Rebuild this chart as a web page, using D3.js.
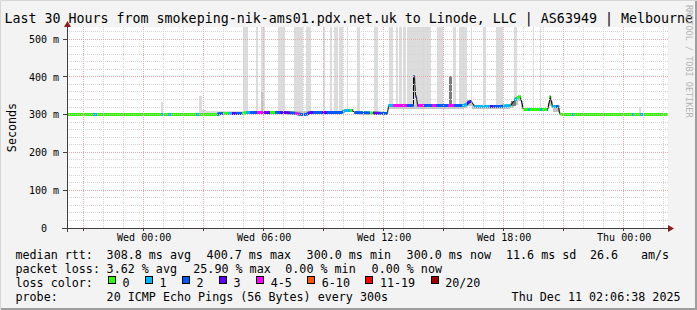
<!DOCTYPE html>
<html>
<head>
<meta charset="utf-8">
<script src="https://cdn.jsdelivr.net/npm/d3@7"></script>
<style>
    body { margin: 0; background: #f3f3f3; }
    svg { display: block; font-family: "DejaVu Sans Mono", monospace; }
</style>
</head>
<body>
<svg width="697" height="310"></svg>
<script>
// ---- chart values ----
// times are hours relative to Wed 00:00, latency in ms

const title = "Last 30 Hours from smokeping-nik-ams01.pdx.net.uk to Linode, LLC | AS63949 | Melbourne";

const lossLabels = ["0", "1", "2", "3", "4-5", "6-10", "11-19", "20/20"];
const lossColors = ["#26ff00", "#00b8ff", "#0059ff", "#5e00ff", "#ff00fe", "#ff5500", "#ff0000", "#a10000"];

// median rtt [hour, ms]
const medianRtt = [
    [-3.84, 300], [3.62, 300], [3.82, 302], [4.42, 303], [4.92, 304], [5.12, 307],
    [5.62, 307], [5.72, 305], [6.32, 306], [7.07, 306], [7.62, 304], [7.82, 301],
    [8.12, 301], [8.27, 305], [9.07, 306], [9.92, 306], [10.02, 311], [10.42, 312],
    [10.52, 305], [12.19, 304], [12.24, 323], [13.47, 323], [13.48, 400.7], [13.54, 400.7],
    [13.57, 349], [13.63, 349], [13.67, 323], [16.02, 323], [16.17, 330], [16.27, 336],
    [16.37, 334], [16.52, 321], [17.82, 321], [18.32, 323], [18.55, 338], [18.77, 349],
    [18.83, 346], [18.98, 314], [20.2, 314], [20.32, 348], [20.36, 346], [20.43, 322],
    [20.73, 322], [20.8, 304], [20.88, 300], [26.17, 300]
];

// loss class runs [fromHour, toHour, class]; everything else is class 0
const lossRuns = [
    [-2.54, -2.34, 1], [0.87, 1.02, 1], [1.22, 1.37, 1], [2.62, 2.77, 1],
    [3.67, 3.97, 2], [4.22, 4.42, 1], [4.42, 4.62, 3], [4.62, 4.92, 2],
    [5.12, 5.32, 1], [5.32, 5.67, 2], [5.67, 5.97, 4], [5.97, 6.32, 3],
    [6.57, 6.82, 2], [6.82, 7.32, 3], [7.32, 7.57, 2], [7.57, 7.77, 4],
    [7.77, 8.22, 2], [8.22, 8.47, 3], [8.47, 8.92, 2], [8.92, 9.17, 3],
    [9.17, 9.97, 2], [9.97, 10.32, 1], [10.42, 10.57, 3], [10.57, 11.32, 2],
    [11.47, 11.82, 3], [11.82, 12.22, 2], [12.22, 12.47, 1], [12.47, 13.17, 4],
    [13.17, 13.47, 2], [13.47, 13.72, 3], [13.72, 14.02, 4], [14.02, 14.42, 2],
    [14.42, 14.62, 4], [14.62, 15.22, 2], [15.22, 15.52, 4], [15.52, 15.92, 2],
    [15.92, 16.17, 1], [16.17, 16.37, 3], [16.37, 17.32, 1], [17.32, 17.47, 3],
    [17.47, 17.97, 2], [17.97, 18.67, 1], [19.22, 19.32, 1], [19.82, 19.92, 1],
    [20.15, 20.27, 2], [20.43, 20.6, 1], [20.6, 20.75, 2], [21.42, 21.52, 1],
    [24.42, 24.52, 1], [24.82, 24.97, 1]
];

// smoke [fromHour, toHour, lowMs, highMs]; 1000 = off the top of the graph
const smokeFaint = [
    [0.87, 0.99, 300, 334], [2.2, 2.7, 300, 304], [2.77, 2.92, 300, 350], [2.92, 3.12, 300, 311],
    [3.12, 4.97, 301, 309], [24.77, 24.87, 300, 321],
    [4.99, 5.24, 304, 1000], [5.62, 5.72, 307, 1000], [5.87, 6.09, 306, 1000], [6.73, 7.09, 306, 1000],
    [7.53, 7.98, 303, 1000], [8.12, 8.35, 302, 1000], [8.99, 9.08, 306, 1000], [9.32, 9.44, 306, 1000],
    [9.53, 9.73, 306, 1000], [9.78, 9.98, 306, 1000], [10.17, 10.22, 312, 1000], [10.65, 10.82, 305, 1000],
    [11.52, 11.73, 304, 1000], [12.28, 12.48, 323, 1000], [12.62, 12.73, 323, 1000], [12.79, 12.9, 323, 1000],
    [12.98, 13.1, 323, 1000], [13.15, 14.35, 323, 1000], [14.69, 14.99, 323, 1000], [15.48, 15.62, 323, 1000],
    [15.78, 16.18, 323, 1000], [16.37, 16.43, 330, 1000], [16.98, 17.12, 321, 1000], [17.62, 17.97, 321, 1000],
    [18.52, 18.65, 335, 1000], [19.47, 19.52, 314, 1000], [19.82, 19.87, 314, 1000]
];
const smokeCore = [
    [3.6, 4.97, 300, 305], [4.97, 10.0, 302, 309], [10.0, 10.5, 308, 314], [10.5, 12.22, 301, 307],
    [12.22, 16.0, 316, 326], [16.0, 16.15, 318, 331], [16.15, 16.4, 322, 340], [16.4, 16.55, 316, 327],
    [16.55, 18.3, 315, 325], [18.3, 18.5, 318, 332], [18.5, 18.7, 325, 348], [18.7, 18.85, 335, 353],
    [18.85, 18.98, 314, 336], [18.98, 20.2, 311, 317], [20.2, 20.27, 314, 332], [20.27, 20.36, 322, 351],
    [20.36, 20.45, 318, 336], [20.45, 20.8, 306, 325], [5.87, 5.95, 306, 360]
];
const smokeDense = [
    [15.28, 15.44, 323, 403], [18.35, 18.6, 322, 336]
];

const rttStats = ["308.8 ms avg", "400.7 ms max", "300.0 ms min", "300.0 ms now", "11.6 ms sd", "26.6", "am/s"];
const lossStats = ["3.62 % avg", "25.90 % max", "0.00 % min", "0.00 % now"];
const probeText = "20 ICMP Echo Pings (56 Bytes) every 300s";
const stampText = "Thu Dec 11 02:06:38 2025";

document.addEventListener('DOMContentLoaded', function () {

    const svg = d3.select("svg"),
        width = +svg.attr("width"),
        height = +svg.attr("height");

    // plot canvas in pixels
    const plot = { left: 67, right: 667, top: 27, bottom: 228 };

    const wed0 = new Date(2025, 11, 10, 0, 0);
    const at = h => new Date(wed0.getTime() + h * 3600e3);

    const x = d3.scaleTime().domain([at(-23 / 6), at(26 + 1 / 6)]).range([plot.left, plot.right]);
    const y = d3.scaleLinear().domain([0, 532]).range([plot.bottom, plot.top]);

    const snap = v => Math.floor(v) + 0.5;
    const defs = svg.append("defs");

    // background with the rrdtool style shaded frame
    svg.append("rect").attr("width", width).attr("height", height).attr("fill", "#f3f3f3");
    svg.append("path").attr("d", `M0.5,${height} V0.5 H${width}`)
        .attr("fill", "none").attr("stroke", "#d6d6d6");
    svg.append("path").attr("d", `M1,${height - 1} H${width - 1} V1`)
        .attr("fill", "none").attr("stroke", "#9e9e9e").attr("stroke-width", 2);

    // white canvas
    svg.append("rect")
        .attr("x", plot.left).attr("y", plot.top)
        .attr("width", plot.right + 1 - plot.left).attr("height", plot.bottom - plot.top)
        .attr("fill", "#fff");

    defs.append("clipPath").attr("id", "plot-clip").append("rect")
        .attr("x", plot.left).attr("y", plot.top)
        .attr("width", plot.right + 1 - plot.left).attr("height", plot.bottom - plot.top);

    const gPlot = svg.append("g").attr("clip-path", "url(#plot-clip)");

    // smoke bands
    function drawSmoke(rows, fill) {
        gPlot.append("g").attr("shape-rendering", "crispEdges")
            .selectAll("rect").data(rows).join("rect")
            .attr("x", d => Math.round(x(at(d[0]))))
            .attr("width", d => Math.max(1, Math.round(x(at(d[1]))) - Math.round(x(at(d[0])))))
            .attr("y", d => Math.round(y(Math.min(d[3], 540))))
            .attr("height", d => Math.max(1, Math.round(y(d[2])) - Math.round(y(Math.min(d[3], 540)))))
            .attr("fill", fill);
    }
    drawSmoke(smokeFaint, "#dcdcdc");
    drawSmoke(smokeCore, "#c2c2c2");
    drawSmoke(smokeDense, "#7c7c7c");

    // dotted grid: hours / 3 hours, 20 ms / 100 ms
    const gGrid = svg.append("g").attr("stroke-dasharray", "1,1").attr("shape-rendering", "crispEdges");
    gGrid.selectAll(".vgrid").data(x.ticks(d3.timeHour.every(1))).join("line")
        .attr("x1", d => snap(x(d))).attr("x2", d => snap(x(d)))
        .attr("y1", plot.top).attr("y2", plot.bottom)
        .attr("stroke", d => d.getHours() % 3 === 0 ? "#eca8a8" : "#d4d4d4");
    gGrid.selectAll(".hgrid").data(d3.range(20, 532, 20)).join("line")
        .attr("x1", plot.left).attr("x2", plot.right + 1)
        .attr("y1", d => snap(y(d))).attr("y2", d => snap(y(d)))
        .attr("stroke", d => d % 100 === 0 ? "#eca8a8" : "#d4d4d4");

    // median rtt: thin black line, colored by loss where flat
    const line = d3.line().x(d => snap(x(at(d[0])))).y(d => snap(y(d[1])));
    gPlot.append("path").attr("d", line(medianRtt))
        .attr("fill", "none").attr("stroke", "#000").attr("stroke-width", 1);

    const flatPath = d3.pairs(medianRtt)
        .filter(([a, b]) => Math.abs(y(b[1]) - y(a[1])) <= 1.2 * (x(at(b[0])) - x(at(a[0]))))
        .map(p => line(p)).join("");

    lossColors.forEach((color, k) => {
        const path = gPlot.append("path").attr("d", flatPath)
            .attr("fill", "none").attr("stroke", color).attr("stroke-width", 3);
        if (k === 0) return;
        const runs = lossRuns.filter(r => r[2] === k);
        if (!runs.length) { path.remove(); return; }
        defs.append("clipPath").attr("id", `loss-${k}`)
            .selectAll("rect").data(runs).join("rect")
            .attr("x", r => Math.round(x(at(r[0]))))
            .attr("width", r => Math.max(1, Math.round(x(at(r[1]))) - Math.round(x(at(r[0])))))
            .attr("y", plot.top).attr("height", plot.bottom - plot.top);
        path.attr("clip-path", `url(#loss-${k})`);
    });

    // axes with arrows
    const axisColor = "#404040", arrowColor = "#8f1c1c";
    const gAxis = svg.append("g").attr("shape-rendering", "crispEdges").attr("stroke", axisColor);
    gAxis.append("line").attr("x1", snap(plot.left)).attr("x2", snap(plot.left)).attr("y1", 232).attr("y2", 24);
    gAxis.append("line").attr("x1", 62).attr("x2", 670).attr("y1", snap(plot.bottom)).attr("y2", snap(plot.bottom));
    gAxis.selectAll(".ytick").data(d3.range(100, 532, 100)).join("line")
        .attr("x1", 63).attr("x2", plot.left)
        .attr("y1", d => snap(y(d))).attr("y2", d => snap(y(d)));
    gAxis.selectAll(".xtick").data(x.ticks(d3.timeHour.every(3))).join("line")
        .attr("x1", d => snap(x(d))).attr("x2", d => snap(x(d)))
        .attr("y1", plot.bottom).attr("y2", plot.bottom + 3);

    svg.append("path").attr("fill", arrowColor)
        .attr("d", `M${snap(plot.left)},21 L${snap(plot.left) + 3.5},27 L${snap(plot.left) - 3.5},27 Z`);
    svg.append("path").attr("fill", arrowColor)
        .attr("d", `M674,${snap(plot.bottom)} L668,${snap(plot.bottom) - 3.5} L668,${snap(plot.bottom) + 3.5} Z`);

    // y tick labels
    const yAxis = svg.append("g").attr("transform", "translate(59,0)")
        .call(d3.axisLeft(y).tickValues(d3.range(0, 501, 100))
            .tickFormat(v => v ? `${v} m` : "0  ").tickSize(0).tickPadding(0));
    yAxis.select(".domain").remove();
    yAxis.attr("font-family", null).attr("font-size", 10);
    yAxis.selectAll("text").style("white-space", "pre").attr("fill", "#000");

    // x tick labels
    const xAxis = svg.append("g").attr("transform", "translate(0,241)")
        .call(d3.axisBottom(x).ticks(d3.timeHour.every(6))
            .tickFormat(d3.timeFormat("%a %H:%M")).tickSize(0).tickPadding(0));
    xAxis.select(".domain").remove();
    xAxis.attr("font-family", null).attr("font-size", 10);
    xAxis.selectAll("text").attr("dy", 0).attr("fill", "#000");

    // title, unit label, watermark
    svg.append("text").attr("x", 4.5).attr("y", 23)
        .attr("font-size", 13.3).style("white-space", "pre").text(title);
    svg.append("text").attr("transform", "translate(15.5,127.5) rotate(-90)")
        .attr("text-anchor", "middle").attr("font-size", 11.7).text("Seconds");
    svg.append("text").attr("transform", "translate(685.5,5) rotate(90)")
        .attr("font-size", 8.5).attr("fill", "#b4b4b4").text("RRDTOOL / TOBI OETIKER");

    // legend
    const legend = svg.append("g").attr("font-size", 11.7).style("white-space", "pre");
    const rows = [258.5, 272.5, 286.5, 300.5];
    ["median rtt:", "packet loss:", "loss color:", "probe:"].forEach((t, i) => {
        legend.append("text").attr("x", 15.5).attr("y", rows[i]).text(t);
    });

    const rttX = [106.6, 206.6, 306.6, 406.6, 506, 590, 641];
    rttStats.forEach((t, i) => legend.append("text").attr("x", rttX[i]).attr("y", rows[0]).text(t));
    const lossX = [106.6, 193.3, 285.3, 371.6];
    lossStats.forEach((t, i) => legend.append("text").attr("x", lossX[i]).attr("y", rows[1]).text(t));

    let bx = 108;
    lossLabels.forEach((lab, k) => {
        legend.append("rect")
            .attr("x", Math.round(bx) + 0.5).attr("y", rows[2] - 10)
            .attr("width", 7).attr("height", 7)
            .attr("fill", lossColors[k]).attr("stroke", "#000");
        legend.append("text").attr("x", bx + 14.5).attr("y", rows[2]).text(lab);
        bx += 30 + lab.length * 7.04;
    });

    legend.append("text").attr("x", 106.6).attr("y", rows[3]).text(probeText);
    legend.append("text").attr("x", 680.5).attr("y", rows[3]).attr("text-anchor", "end").text(stampText);
});
</script>
</body>
</html>
